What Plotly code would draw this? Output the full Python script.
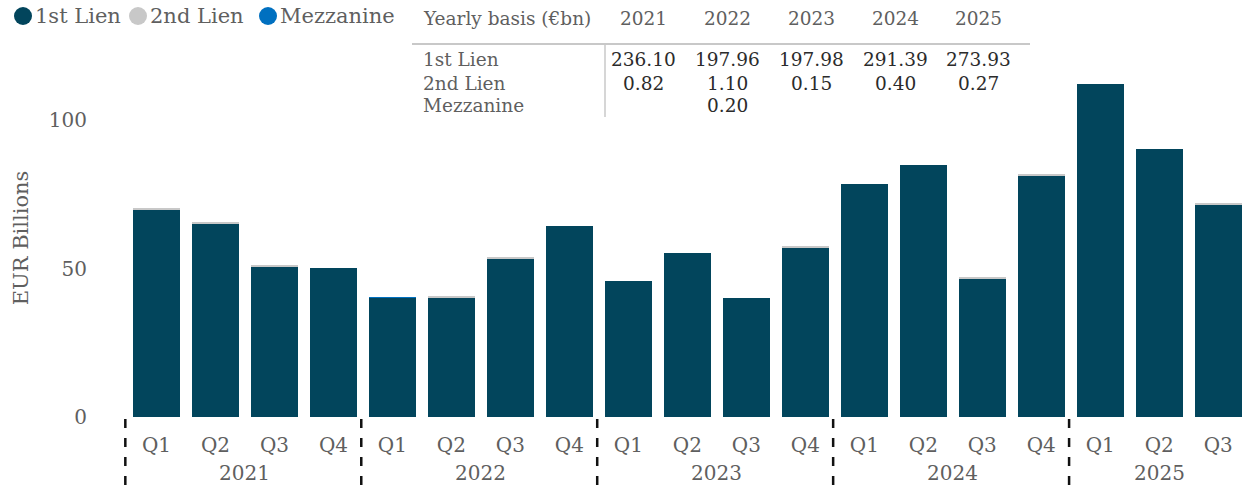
import plotly.graph_objects as go

# ---------------- data ----------------
quarters = ["Q1", "Q2", "Q3", "Q4"] * 4 + ["Q1", "Q2", "Q3"]
years = ["2021", "2022", "2023", "2024", "2025"]
year_quarter_counts = [4, 4, 4, 4, 3]

first_lien = [70.0, 65.0, 50.8, 50.3,
              40.1, 40.3, 53.2, 64.3,
              45.7, 55.1, 40.0, 57.2,
              78.3, 85.0, 46.7, 81.4,
              112.1, 90.2, 71.6]
second_lien = [0.15, 0.35, 0.32, 0.0,
               0.1, 0.3, 0.7, 0.0,
               0.0, 0.0, 0.0, 0.15,
               0.0, 0.0, 0.25, 0.15,
               0.0, 0.0, 0.27]
mezzanine = [0.0, 0.0, 0.0, 0.0,
             0.2, 0.0, 0.0, 0.0,
             0.0, 0.0, 0.0, 0.0,
             0.0, 0.0, 0.0, 0.0,
             0.0, 0.0, 0.0]

table_header = "Yearly basis (€bn)"
table_rows = ["1st Lien", "2nd Lien", "Mezzanine"]
yearly_first = ["236.10", "197.96", "197.98", "291.39", "273.93"]
yearly_second = ["0.82", "1.10", "0.15", "0.40", "0.27"]
yearly_mezz = ["", "0.20", "", "", ""]

series_names = ["1st Lien", "2nd Lien", "Mezzanine"]
colors = ["#02455C", "#C8C8C8", "#0070C0"]

# ---------------- layout constants ----------------
W, H = 1243, 488
ML, MR, MT, MB = 127, 0, 59, 71
PW, PH = W - ML - MR, H - MT - MB
FONT = "DejaVu Serif"
GREY = "#5f5f5f"
DARK = "#2b2b2b"


def px(xpix):
    return (xpix - ML) / PW


def py(ypix):
    return (H - MB - ypix) / PH


x = list(range(len(quarters)))
fig = go.Figure()
for name, vals, col in zip(series_names, [first_lien, second_lien, mezzanine], colors):
    fig.add_trace(go.Bar(x=x, y=vals, name=name, marker=dict(color=col, line=dict(width=0)),
                         showlegend=False))

annotations = []
shapes = []

# legend (circles + labels)
leg_circle_x = [23, 138, 268]
leg_text_x = [33, 148, 278]
for cx, tx, name, col in zip(leg_circle_x, leg_text_x, series_names, colors):
    shapes.append(dict(type="circle", xref="paper", yref="paper",
                       x0=px(cx - 9), x1=px(cx + 9), y0=py(25), y1=py(7),
                       fillcolor=col, line=dict(width=0)))
    annotations.append(dict(text=name, xref="paper", yref="paper", x=px(tx), y=py(16),
                            xanchor="left", yanchor="middle", showarrow=False,
                            font=dict(family=FONT, size=21, color=GREY)))

# table
col_x = [643, 727, 811, 895, 978]
annotations.append(dict(text=table_header, xref="paper", yref="paper", x=px(421), y=py(18),
                        xanchor="left", yanchor="middle", showarrow=False,
                        font=dict(family=FONT, size=18.5, color=GREY)))
for cxp, yr in zip(col_x, years):
    annotations.append(dict(text=yr, xref="paper", yref="paper", x=px(cxp), y=py(18),
                            xanchor="center", yanchor="middle", showarrow=False,
                            font=dict(family=FONT, size=18.5, color=GREY)))
row_y = [59, 83, 106]
for ry, lbl, vals in zip(row_y, table_rows, [yearly_first, yearly_second, yearly_mezz]):
    annotations.append(dict(text=lbl, xref="paper", yref="paper", x=px(421), y=py(ry),
                            xanchor="left", yanchor="middle", showarrow=False,
                            font=dict(family=FONT, size=18.5, color=GREY)))
    for cxp, v in zip(col_x, vals):
        if v:
            annotations.append(dict(text=v, xref="paper", yref="paper", x=px(cxp), y=py(ry),
                                    xanchor="center", yanchor="middle", showarrow=False,
                                    font=dict(family=FONT, size=18.5, color=DARK)))
shapes.append(dict(type="line", xref="paper", yref="paper", x0=px(412), x1=px(1030),
                   y0=py(44), y1=py(44), line=dict(color="#c8c8c8", width=2)))
shapes.append(dict(type="line", xref="paper", yref="paper", x0=px(605), x1=px(605),
                   y0=py(44), y1=py(117), line=dict(color="#c8c8c8", width=1.5)))

# year group labels and dashed separators
XR = [-0.5, 18.42]
start = 0
for yr, n in zip(years, year_quarter_counts):
    center = start + (n - 1) / 2
    annotations.append(dict(text=yr, xref="x", yref="paper", x=center, y=py(473),
                            xanchor="center", yanchor="middle", showarrow=False,
                            font=dict(family=FONT, size=20, color=GREY)))
    sep = start - 0.5
    xp = (sep - XR[0]) / (XR[1] - XR[0])
    shapes.append(dict(type="line", xref="paper", yref="paper", x0=xp - 0.0015, x1=xp - 0.0015,
                       y0=py(419), y1=py(488), line=dict(color="#111111", width=2.5, dash="9px,10px")))
    start += n

fig.update_layout(
    width=W, height=H,
    margin=dict(l=ML, r=MR, t=MT, b=MB),
    paper_bgcolor="white", plot_bgcolor="white",
    barmode="stack", bargap=0.2,
    font=dict(family=FONT, color=GREY),
    annotations=annotations, shapes=shapes,
    xaxis=dict(range=XR, tickvals=x, ticktext=quarters, showgrid=False, zeroline=False,
               showline=False, ticks="", ticklabelstandoff=14,
               tickfont=dict(family=FONT, size=20, color=GREY)),
    yaxis=dict(range=[0, PH / 2.97], tickvals=[0, 50, 100], showgrid=False, zeroline=False,
               showline=False, ticks="", ticklabelstandoff=39,
               tickfont=dict(family=FONT, size=20, color=GREY),
               title=dict(text="EUR Billions", font=dict(family=FONT, size=21, color=GREY),
                          standoff=14)),
)

fig.write_html("out.html", config={"displayModeBar": False},
               post_script="document.body.style.margin='0';document.body.style.padding='0';")
